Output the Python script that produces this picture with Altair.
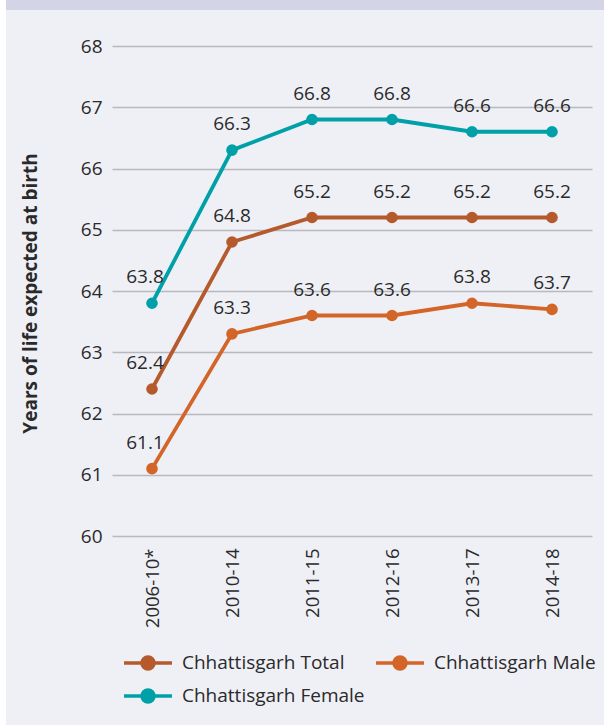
import altair as alt
import pandas as pd

# Life expectancy at birth, Chhattisgarh (years)
periods = ["2006-10*", "2010-14", "2011-15", "2012-16", "2013-17", "2014-18"]
series = ["Chhattisgarh Total", "Chhattisgarh Male", "Chhattisgarh Female"]
total = [62.4, 64.8, 65.2, 65.2, 65.2, 65.2]
male = [61.1, 63.3, 63.6, 63.6, 63.8, 63.7]
female = [63.8, 66.3, 66.8, 66.8, 66.6, 66.6]
y_ticks = [60, 61, 62, 63, 64, 65, 66, 67, 68]

colors = ["#b55a2d", "#d36529", "#00a0a8"]
text_color = "#2a2a2a"
font = "Open Sans"

rows = []
for name, values in zip(series, [total, male, female]):
    for p, v in zip(periods, values):
        rows.append({"period": p, "series": name, "value": v})
df = pd.DataFrame(rows)

# legend glyph: a short line with a dot in the middle
legend_symbol = (
    "M-1,0L1,0"
    "M-0.25,0A0.25,0.25,0,1,0,0.25,0A0.25,0.25,0,1,0,-0.25,0Z"
)

x_enc = alt.X(
    "period:N",
    sort=periods,
    scale=alt.Scale(type="point", padding=0.5),
    axis=alt.Axis(
        title=None,
        labelAngle=270,
        labelAlign="right",
        labelBaseline="middle",
        labelPadding=12,
        labelFontSize=18.5,
        labelColor=text_color,
        labelFont=font,
        domain=False,
        ticks=False,
        grid=False,
    ),
)
y_enc = alt.Y(
    "value:Q",
    scale=alt.Scale(domain=[60, 68], nice=False, zero=False),
    axis=alt.Axis(
        values=y_ticks,
        title="Years of life expected at birth",
        titleFont=font,
        titleFontSize=19,
        titleFontWeight="bold",
        titleColor=text_color,
        titleAngle=270,
        titleX=-76,
        titleY=247,
        titleAlign="center",
        titleBaseline="alphabetic",
        labelFontSize=19,
        labelFont=font,
        labelColor=text_color,
        labelPadding=10,
        domain=False,
        ticks=False,
        grid=True,
        gridColor="#b9b9bd",
        gridWidth=1.5,
    ),
)
color_scale = alt.Scale(domain=series, range=colors)
legend = alt.Legend(
    title=None,
    orient="none",
    legendX=10,
    legendY=605,
    direction="horizontal",
    columns=2,
    symbolType=legend_symbol,
    symbolSize=2304,
    symbolStrokeWidth=3.5,
    symbolOpacity=1,
    labelFont=font,
    labelFontSize=19,
    labelColor=text_color,
    labelOffset=8,
    labelLimit=400,
    clipHeight=24,
    rowPadding=9,
    columnPadding=9,
    padding=0,
)

base = alt.Chart(df)

# white margin strip on the left and the header band along the top
edge = alt.Chart(alt.Data(values=[{}])).mark_rect(color="white").encode(
    x=alt.value(-112), x2=alt.value(-106), y=alt.value(-46), y2=alt.value(679)
)
band = alt.Chart(alt.Data(values=[{}])).mark_rect(color="#d3d5e6").encode(
    x=alt.value(-106), x2=alt.value(492), y=alt.value(-46), y2=alt.value(-36)
)

lines = base.mark_line(strokeWidth=3.8).encode(
    x=x_enc,
    y=y_enc,
    color=alt.Color("series:N", scale=color_scale, sort=series, legend=legend),
    order=alt.Order("series:N"),
)
points = base.mark_point(filled=True, size=135, opacity=1).encode(
    x=x_enc,
    y=y_enc,
    color=alt.Color("series:N", scale=color_scale, sort=series, legend=legend),
)

label_style = dict(
    baseline="alphabetic", align="center", dy=-20,
    fontSize=19, font=font, color=text_color,
)
labels_first = base.transform_filter(
    alt.datum.period == periods[0]
).mark_text(dx=-7, **label_style).encode(
    x=x_enc, y=y_enc, text=alt.Text("value:Q", format=".1f")
)
labels_rest = base.transform_filter(
    alt.datum.period != periods[0]
).mark_text(**label_style).encode(
    x=x_enc, y=y_enc, text=alt.Text("value:Q", format=".1f")
)

chart = alt.layer(
    edge, band, lines, points, labels_first, labels_rest
).properties(
    width=480,
    height=490,
    autosize=alt.AutoSizeParams(type="none"),
    padding={"left": 112, "top": 46, "right": 12, "bottom": 189},
    background="#eff0f6",
).configure_view(stroke=None)

chart.save("out.html", embed_options={"renderer": "svg", "actions": False})
